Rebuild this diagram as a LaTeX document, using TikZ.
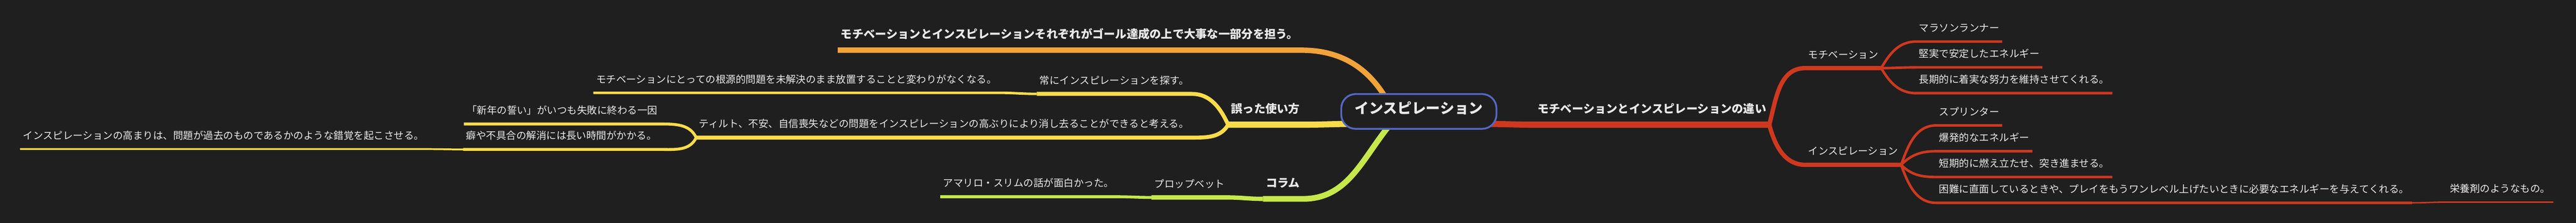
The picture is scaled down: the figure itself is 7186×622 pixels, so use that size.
\documentclass[tikz,border=0pt]{standalone}
\usepackage{fontspec}
\newfontfamily\jp{Noto Sans CJK JP}
\usetikzlibrary{positioning}
\definecolor{bgc}{HTML}{1F1F1F}
\definecolor{txt}{HTML}{EAEAEA}
\definecolor{hubblue}{HTML}{5468C4}
\definecolor{mred}{HTML}{CF381F}
\definecolor{morange}{HTML}{F2A33A}
\definecolor{myellow}{HTML}{FADC4A}
\definecolor{mgreen}{HTML}{C6E84B}
\pgfdeclarelayer{back}
\pgfdeclarelayer{links}
\pgfsetlayers{back,links,main}
\tikzset{
  hub/.style={draw=hubblue, line width=5pt, fill=bgc, rounded corners=40pt,
    minimum width=433pt, minimum height=97pt, text=txt,
    font=\jp\bfseries\fontsize{40}{44}\selectfont, text height=35.2pt, text depth=24.8pt},
  major/.style={anchor=south west, text=txt, inner xsep=8pt, inner ysep=0pt,
    font=\jp\bfseries\fontsize{32}{36}\selectfont, text height=28.2pt, text depth=3.8pt,
    minimum height=90pt},
  topic/.style={anchor=south west, text=txt, inner xsep=8pt, inner ysep=0pt,
    font=\jp\fontsize{28}{32}\selectfont, text height=24.6pt, text depth=3.4pt,
    minimum height=76pt},
  way/.style 2 args={draw=#1, line width=#2}
}
\begin{document}
\begin{tikzpicture}[x=1pt,y=-1pt]
\useasboundingbox (0,0) rectangle (7186,622);
\begin{pgfonlayer}{back}
\fill[bgc] (0,0) rectangle (7186,622);
\end{pgfonlayer}

\node[hub] (hub) at (3958,311) {インスピレーション};

\node[major] (diff) at (4281,348) {モチベーションとインスピレーションの違い};
\node[topic] (mot) at (5036,190) {モチベーション};
\node[topic] (ins) at (5036,460) {インスピレーション};
\node[topic] (mar) at (5345,116) {マラソンランナー};
\node[topic] (ken) at (5345,188) {堅実で安定したエネルギー};
\node[topic] (cho) at (5345,260) {長期的に着実な努力を維持させてくれる。};
\node[topic] (spr) at (5401,350) {スプリンター};
\node[topic] (bak) at (5401,422) {爆発的なエネルギー};
\node[topic] (tan) at (5401,494) {短期的に燃え立たせ、突き進ませる。};
\node[topic] (kon) at (5401,566) {困難に直面しているときや、プレイをもうワンレベル上げたいときに必要なエネルギーを与えてくれる。};
\node[topic] (eiyo) at (6826,564) {栄養剤のようなもの。};

\node[major] (both) at (2337,140) {モチベーションとインスピレーションそれぞれがゴール達成の上で大事な一部分を担う。};

\node[major] (wrong) at (3426,348) {誤った使い方};
\node[topic] (tsune) at (2892,262) {常にインスピレーションを探す。};
\node[topic] (root) at (1655,259) {モチベーションにとっての根源的問題を未解決のまま放置することと変わりがなくなる。};
\node[topic] (tilt) at (1942,384) {ティルト、不安、自信喪失などの問題をインスピレーションの高ぶりにより消し去ることができると考える。};
\node[topic] (newy) at (1294,346) {「新年の誓い」がいつも失敗に終わる一因};
\node[topic] (kuse) at (1292,417) {癖や不具合の解消には長い時間がかかる。};
\node[topic] (illu) at (56,416) {インスピレーションの高まりは、問題が過去のものであるかのような錯覚を起こさせる。};

\node[major] (col) at (3523,555) {コラム};
\node[topic] (prop) at (3212,551) {プロップベット};
\node[topic] (ama) at (2623,549) {アマリロ・スリムの話が面白かった。};

\begin{pgfonlayer}{links}
\draw[way={mred}{17pt}] ([xshift=-40pt]hub.-9) to[out=0,in=180] (diff.south west) -- (diff.south east);
\draw[way={mred}{12pt}] (diff.south east) to[out=75,in=180] (mot.south west) -- (mot.south east);
\draw[way={mred}{12pt}] (diff.south east) to[out=-75,in=180] (ins.south west) -- (ins.south east);
\draw[way={mred}{7pt}] (mot.south east) to[out=60,in=180] (mar.south west) -- (mar.south east);
\draw[way={mred}{7pt}] (mot.south east) to[out=0,in=180] (ken.south west) -- (ken.south east);
\draw[way={mred}{7pt}] (mot.south east) to[out=-60,in=180] (cho.south west) -- (cho.south east);
\draw[way={mred}{7pt}] (ins.south east) to[out=70,in=180] (spr.south west) -- (spr.south east);
\draw[way={mred}{7pt}] (ins.south east) to[out=45,in=180] (bak.south west) -- (bak.south east);
\draw[way={mred}{7pt}] (ins.south east) to[out=-45,in=180] (tan.south west) -- (tan.south east);
\draw[way={mred}{7pt}] (ins.south east) to[out=-70,in=180] (kon.south west) -- (kon.south east);
\draw[way={mred}{4pt}] (kon.south east) to[out=0,in=180] (eiyo.south west) -- (eiyo.south east);

\draw[way={morange}{15pt}] ([yshift=-20pt]hub.150) to[out=120,in=0] (both.south east) -- (both.south west);

\draw[way={myellow}{17pt}] ([xshift=40pt]hub.189) to[out=180,in=0] (wrong.south east) -- (wrong.south west);
\draw[way={myellow}{11pt}] (wrong.south west) to[out=115,in=0] (tsune.south east) -- (tsune.south west);
\draw[way={myellow}{11pt}] (wrong.south west) to[out=-120,in=0] (tilt.south east) -- (tilt.south west);
\draw[way={myellow}{7pt}] (tsune.south west) to[out=180,in=0] (root.south east) -- (root.south west);
\draw[way={myellow}{8pt}] (tilt.south west) to[out=115,in=0] (newy.south east) -- (newy.south west);
\draw[way={myellow}{8pt}] (tilt.south west) to[out=-115,in=0] (kuse.south east) -- (kuse.south west);
\draw[way={myellow}{5pt}] (kuse.south west) to[out=180,in=0] (illu.south east) -- (illu.south west);

\draw[way={mgreen}{16pt}] ([yshift=20pt]hub.214) to[out=230,in=0] (col.south east) -- (col.south west);
\draw[way={mgreen}{12pt}] (col.south west) to[out=180,in=0] (prop.south east) -- (prop.south west);
\draw[way={mgreen}{8pt}] (prop.south west) to[out=180,in=0] (ama.south east) -- (ama.south west);
\end{pgfonlayer}
\end{tikzpicture}
\end{document}
